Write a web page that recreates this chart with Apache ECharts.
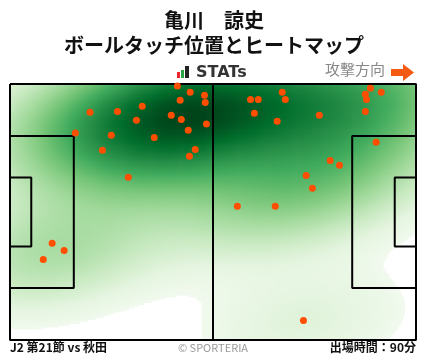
<!DOCTYPE html>
<html><head><meta charset="utf-8">
<script src="https://cdn.jsdelivr.net/npm/echarts@6/dist/echarts.min.js"></script>
<style>html,body{margin:0;padding:0;background:#fff}#c{width:428px;height:359px}</style>
</head><body><div id="c"></div>
<script>
// ---- data ----
const playerName = '亀川　諒史';
const chartTitle = 'ボールタッチ位置とヒートマップ';
const matchLabel = 'J2 第21節 vs 秋田';
const creditLabel = '© SPORTERIA';
const minutesLabel = '出場時間：90分';
const directionLabel = '攻撃方向';
const brandLabel = 'STATs';
// touch positions, metres (x: 0..105 along attack direction, y: 0..68 from top)
const touchX = [43.3,46.6,50.3,50.5,44.0,34.2,27.8,20.7,41.7,44.3,32.7,50.8,46.1,16.9,26.2,37.3,47.9,46.4,23.9,30.6,
  93.2,96.0,91.9,92.2,91.9,70.4,71.2,62.2,64.2,63.2,69.1,80.0,94.7,82.8,85.2,76.6,78.2,58.8,68.6,10.9,14.0,8.6,75.9];
const touchY = [0.5,2.2,3.0,4.9,4.3,5.9,7.3,7.5,8.3,9.4,9.6,10.6,12.3,13.0,13.6,14.2,17.4,19.2,17.6,24.8,
  1.1,2.2,2.7,4.1,7.3,2.2,4.1,4.1,4.1,7.8,9.9,8.3,15.5,20.3,21.6,24.3,27.7,32.5,32.5,42.3,44.2,46.6,62.8];
// pitch markings, metres
const pitchOutline = [[0,0],[105,0],[105,68],[0,68],[0,0]];
const halfwayLine = [[52.5,0],[52.5,68]];
const leftPenaltyBox = [[0,13.84],[16.5,13.84],[16.5,54.16],[0,54.16]];
const leftGoalArea = [[0,24.84],[5.5,24.84],[5.5,43.16],[0,43.16]];
const rightPenaltyBox = [[105,13.84],[88.5,13.84],[88.5,54.16],[105,54.16]];
const rightGoalArea = [[105,24.84],[99.5,24.84],[99.5,43.16],[105,43.16]];
const greens = ['#f3faf0','#e5f5e0','#c7e9c0','#a1d99b','#74c476','#41ab5d','#238b45','#006d2c','#00441b'];
const bandwidthScale = 1.3;
const colourGamma = 0.6;
const whiteThreshold = 0.02;

// ---- KDE (Gaussian, Scott bandwidth, full covariance) ----
const n = touchX.length;
const mx = touchX.reduce((a,b)=>a+b,0)/n, my = touchY.reduce((a,b)=>a+b,0)/n;
let sxx=0, syy=0, sxy=0;
for (let i=0;i<n;i++){ const dx=touchX[i]-mx, dy=touchY[i]-my; sxx+=dx*dx; syy+=dy*dy; sxy+=dx*dy; }
sxx/=(n-1); syy/=(n-1); sxy/=(n-1);
const f2 = Math.pow(n, -1/3) * bandwidthScale * bandwidthScale;
const a = sxx*f2, d = syy*f2, b = sxy*f2;
const det = a*d-b*b;
const ia = d/det, id = a/det, ib = -b/det;
const step = 0.5;
const raw = [];
let dmax = 0;
for (let x=step/2; x<105; x+=step){
  for (let y=step/2; y<68; y+=step){
    let s=0;
    for (let i=0;i<n;i++){
      const dx=x-touchX[i], dy=y-touchY[i];
      s += Math.exp(-0.5*(ia*dx*dx + 2*ib*dx*dy + id*dy*dy));
    }
    if (s>dmax) dmax=s;
    raw.push([x,y,s]);
  }
}
const cells = raw.filter(c => c[2]/dmax >= whiteThreshold)
  .map(c => [c[0], c[1], Math.pow((c[2]/dmax - whiteThreshold)/(1-whiteThreshold), colourGamma)]);

const chart = echarts.init(document.getElementById('c'), null, {renderer:'canvas'});
const FONT = '"Noto Sans CJK JP", "Noto Sans", sans-serif';
const lineSeries = (pts) => ({
  type:'line', data:pts, symbol:'none', clip:false, silent:true, z:5,
  lineStyle:{color:'#000', width:2}, animation:false
});
chart.setOption({
  animation:false,
  grid:{left:10, top:84, width:406, height:256, show:false},
  xAxis:{type:'value', min:0, max:105, show:false},
  yAxis:{type:'value', min:0, max:68, inverse:true, show:false},
  visualMap:{show:false, type:'continuous', min:0, max:1, dimension:2, seriesIndex:0, inRange:{color:greens}},
  series:[
    {type:'custom', data:cells, silent:true, z:1, animation:false, encode:{x:0,y:1},
     renderItem:function(params, api){
       const h = step/2;
       const p = api.coord([api.value(0)-h, api.value(1)-h]);
       const q = api.coord([api.value(0)+h, api.value(1)+h]);
       return {type:'rect', shape:{x:Math.min(p[0],q[0]), y:Math.min(p[1],q[1]), width:Math.abs(q[0]-p[0])+0.7, height:Math.abs(q[1]-p[1])+0.7},
               style:{fill:api.visual('color')}};
     }},
    lineSeries(pitchOutline), lineSeries(halfwayLine),
    lineSeries(leftPenaltyBox), lineSeries(leftGoalArea),
    lineSeries(rightPenaltyBox), lineSeries(rightGoalArea),
    {type:'scatter', data:touchX.map((x,i)=>[x,touchY[i]]), symbolSize:7, z:10, silent:true,
     itemStyle:{color:'#ff4e00', opacity:1}}
  ],
  graphic:[
    {type:'text', left:'center', top:10, style:{text:playerName, font:'bold 20px '+FONT, fill:'#111'}},
    {type:'text', left:'center', top:35, style:{text:chartTitle, font:'bold 20px '+FONT, fill:'#111'}},
    {type:'rect', shape:{x:177, y:72, width:3, height:6}, style:{fill:'#e8262b'}},
    {type:'rect', shape:{x:181, y:70, width:3, height:8}, style:{fill:'#2aa744'}},
    {type:'rect', shape:{x:185, y:66, width:4, height:12}, style:{fill:'#222'}},
    {type:'text', x:196, y:65, style:{text:brandLabel, font:'bold 16px "DejaVu Sans", sans-serif', fill:'#333'}},
    {type:'text', x:325, y:62, style:{text:directionLabel, font:'15px '+FONT, fill:'#888'}},
    {type:'polygon', shape:{points:[[391,69],[403,69],[403,64],[414,72.5],[403,81],[403,76],[391,76]]}, style:{fill:'#f55a14'}},
    {type:'text', x:10, y:341, style:{text:matchLabel, font:'bold 12px '+FONT, fill:'#111'}},
    {type:'text', x:213, y:342, style:{text:creditLabel, font:'11px '+FONT, fill:'#999', align:'center'}},
    {type:'text', right:12, y:341, style:{text:minutesLabel, font:'bold 12px '+FONT, fill:'#111'}}
  ]
});
</script></body></html>
